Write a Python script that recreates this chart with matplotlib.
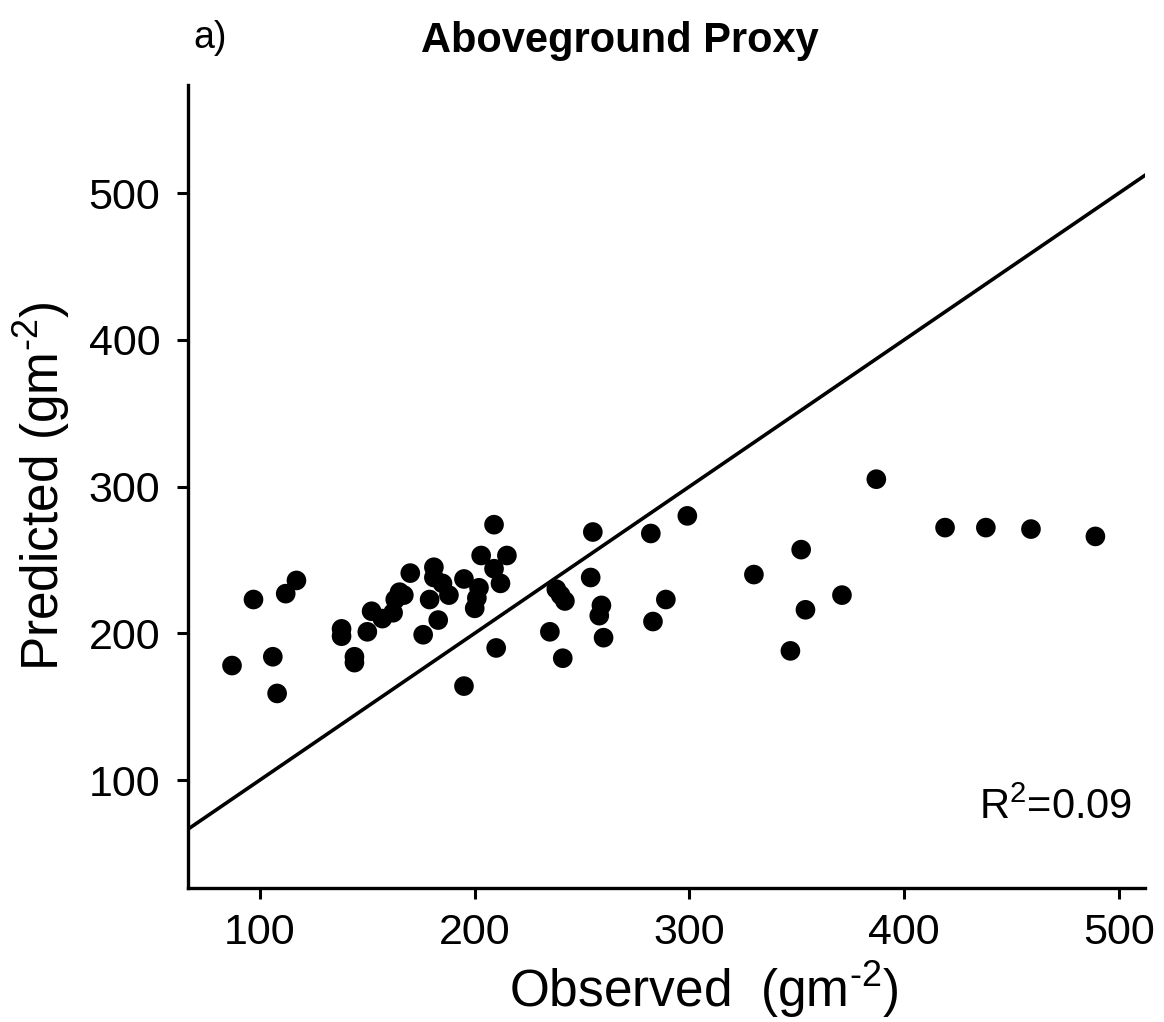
import matplotlib
matplotlib.use('Agg')
import matplotlib.pyplot as plt

matplotlib.rcParams['font.family'] = ['Liberation Sans', 'DejaVu Sans']
matplotlib.rcParams['mathtext.fontset'] = 'custom'
matplotlib.rcParams['mathtext.rm'] = 'Liberation Sans'
matplotlib.rcParams['mathtext.it'] = 'Liberation Sans'

# observed vs predicted (g m-2)
observed = [97, 112, 117, 87, 106, 108, 138, 138, 144, 144,
            150, 152, 157, 162, 163, 165, 167, 170, 176, 181,
            181, 179, 183, 185, 188, 195, 203, 202, 201, 200,
            195, 209, 215, 209, 212, 210, 238, 240, 242, 235,
            241, 254, 259, 258, 260, 255, 282, 283, 289, 299,
            387, 419, 438, 459, 489, 352, 330, 371, 354, 347]
predicted = [223, 227, 236, 178, 184, 159, 203, 198, 184, 180,
             201, 215, 210, 214, 223, 228, 226, 241, 199, 245,
             238, 223, 209, 234, 226, 237, 253, 231, 224, 217,
             164, 274, 253, 244, 234, 190, 230, 226, 222, 201,
             183, 238, 219, 212, 197, 269, 268, 208, 223, 280,
             305, 272, 272, 271, 266, 257, 240, 226, 216, 188]
r2_text = r'R$^2$=0.09'

fig = plt.figure(figsize=(11.64, 10.22), dpi=100)
ax = fig.add_axes([0.1615, 0.1311, 0.822, 0.7857])

ax.scatter(observed, predicted, s=200, color='black', edgecolors='none', zorder=3)
ax.axline((0, 0), slope=1, color='black', linewidth=2.6, zorder=2)

ax.set_xlim(66.5, 512)
ax.set_ylim(26.4, 573.6)
ax.set_xticks([100, 200, 300, 400, 500])
ax.set_yticks([100, 200, 300, 400, 500])

for side in ['top', 'right']:
    ax.spines[side].set_visible(False)
for side in ['left', 'bottom']:
    ax.spines[side].set_linewidth(2.4)
ax.tick_params(axis='both', length=8, width=2.2, labelsize=31, colors='black')
ax.tick_params(axis='x', pad=10)
ax.tick_params(axis='y', pad=12)

ax.set_xlabel('Observed  (gm$^{\u2010 2}$)', fontsize=37)
ax.set_ylabel('Predicted (gm$^{\u2010 2}$)', fontsize=37)
ax.xaxis.set_label_coords(0.539, -0.089)
ax.yaxis.set_label_coords(-0.121, 0.5)
ax.set_title('Aboveground Proxy', fontsize=30, fontweight='bold', pad=24, x=0.451)
fig.text(0.166, 0.963, 'a)', fontsize=27, ha='left', va='center')

ax.text(0.987, 0.1, r2_text, transform=ax.transAxes, fontsize=30,
        ha='right', va='center')

plt.savefig('out.png', dpi=100)
